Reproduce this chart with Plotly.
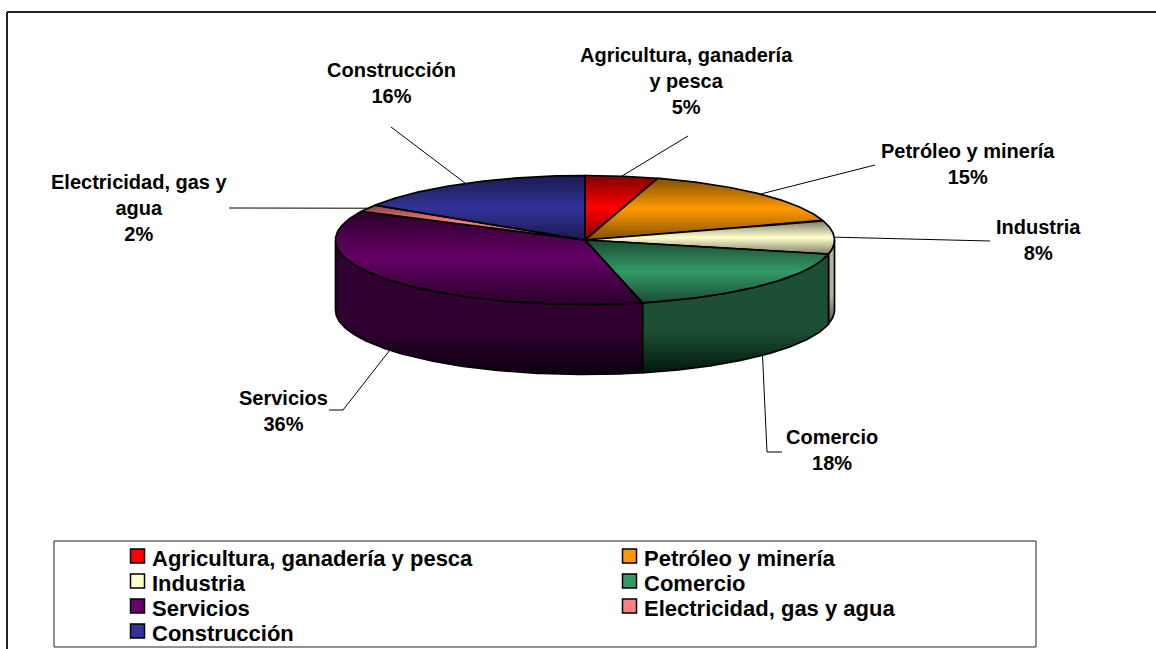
import numpy as np
import plotly.graph_objects as go

categories = ["Agricultura, ganadería y pesca", "Petróleo y minería", "Industria", "Comercio",
              "Servicios", "Electricidad, gas y agua", "Construcción"]
values = [4.7, 15.4, 8.4, 17.8, 36.0, 1.8, 15.9]
wrapped = ["Agricultura, ganadería<br>y pesca", "Petróleo y minería", "Industria", "Comercio",
           "Servicios", "Electricidad, gas y<br>agua", "Construcción"]
colors = ["#ff0000", "#ff9900", "#ffffcc", "#339966", "#660066", "#ff8080", "#333399"]
dark_top = ["#800000", "#805000", "#80806a", "#1a4d33", "#2a002a", "#804040", "#1a1a50"]
side_top = ["#800000", "#805000", "#b4b498", "#1c4f33", "#2f0030", "#804040", "#1a1a50"]
side_bot = ["#300000", "#302000", "#54543f", "#03170c", "#0e0012", "#301818", "#0a0a20"]
label_xy = [(686, 81), (968, 164), (1038, 240), (832, 450), (283, 411), (139, 208), (391, 83)]
leader_paths = [[(688, 136)], [(875, 165)], [(990, 241)], [(767, 452), (782, 452)],
                [(343, 410), (329, 410)], [(229, 208)], [(391, 127)]]
legend_cols = [137.5, 629.5]
legend_rows = [556, 581, 606, 631]

CX, CY, A, B, DEPTH = 585, 240, 249.5, 64.5, 70
LINE = "#000000"
FONT = "Liberation Sans"


def pt(theta, dy=0.0):
    return CX + A * np.sin(theta), CY - B * np.cos(theta) + dy


edges = 2 * np.pi * np.concatenate([[0], np.cumsum(values)]) / sum(values)
fig = go.Figure()

for i, name in enumerate(categories):
    lo, hi = max(edges[i], np.pi / 2), min(edges[i + 1], 3 * np.pi / 2)
    if hi <= lo:
        continue
    t = np.linspace(lo, hi, 120)
    x1, y1 = pt(t)
    x2, y2 = pt(t[::-1], DEPTH)
    fig.add_trace(go.Scatter(
        x=np.r_[x1, x2, x1[0]], y=np.r_[y1, y2, y1[0]], mode="lines", fill="toself",
        line=dict(color=LINE, width=1.7), showlegend=False, hoverinfo="skip",
        fillgradient=dict(type="vertical",
                          colorscale=[[0, side_bot[i]], [0.35, side_top[i]], [1, side_top[i]]]),
    ))

for i, name in enumerate(categories):
    t = np.linspace(edges[i], edges[i + 1], 120)
    x, y = pt(t)
    fig.add_trace(go.Scatter(
        x=np.r_[CX, x, CX], y=np.r_[CY, y, CY], mode="lines", fill="toself", name=name,
        line=dict(color=LINE, width=1.7), showlegend=False, text=f"{name}: {values[i]}%", hoverinfo="text",
        fillgradient=dict(type="vertical", colorscale=[[0, dark_top[i]], [0.5, colors[i]], [1, dark_top[i]]]),
    ))

# leader lines: anchored on the rim at each slice's middle angle
for i, path in enumerate(leader_paths):
    mid = (edges[i] + edges[i + 1]) / 2
    dy = DEPTH if np.pi / 2 < mid < 3 * np.pi / 2 else 0
    sx, sy = pt(mid, dy)
    xs = [sx] + [p[0] for p in path]
    ys = [sy] + [p[1] for p in path]
    fig.add_trace(go.Scatter(x=xs, y=ys, mode="lines", line=dict(color="#000000", width=1),
                             showlegend=False, hoverinfo="skip"))

annotations = [
    dict(x=label_xy[i][0], y=label_xy[i][1], xref="x", yref="y", showarrow=False,
         text=f"<b>{wrapped[i]}<br>{round(values[i])}%</b>", align="center",
         font=dict(family=FONT, size=20, color="#000000"))
    for i in range(len(categories))
]

# two-column key
for i, name in enumerate(categories):
    kx, ky = legend_cols[i % 2], legend_rows[i // 2]
    fig.add_trace(go.Scatter(
        x=[kx], y=[ky], mode="markers", name=name, showlegend=False, hoverinfo="skip",
        marker=dict(symbol="square", size=14, color=colors[i], line=dict(color="#000000", width=1.5)),
    ))
    annotations.append(dict(x=kx + 12.5, y=ky + 2, xref="x", yref="y", xanchor="left", showarrow=False,
                            text=f"<b>{name}</b>", font=dict(family=FONT, size=22, color="#000000")))

shapes = [
    dict(type="line", x0=7, x1=1156, y0=12, y1=12, xref="x", yref="y", line=dict(color="#222222", width=2)),
    dict(type="line", x0=7, x1=7, y0=12, y1=649, xref="x", yref="y", line=dict(color="#222222", width=2)),
    dict(type="rect", x0=54, x1=1036, y0=541, y1=647, xref="x", yref="y", layer="below",
         line=dict(color="#222222", width=1), fillcolor="#ffffff"),
]

fig.update_layout(
    width=1156, height=649, margin=dict(l=0, r=0, t=0, b=0, autoexpand=False), autosize=False,
    paper_bgcolor="#ffffff", plot_bgcolor="#ffffff", showlegend=False,
    xaxis=dict(range=[0, 1156], visible=False, fixedrange=True),
    yaxis=dict(range=[649, 0], visible=False, fixedrange=True),
    annotations=annotations, shapes=shapes,
)
fig.write_html("out.html", config={"displayModeBar": False},
               post_script="document.body.style.margin='0';document.body.style.overflow='hidden';")
